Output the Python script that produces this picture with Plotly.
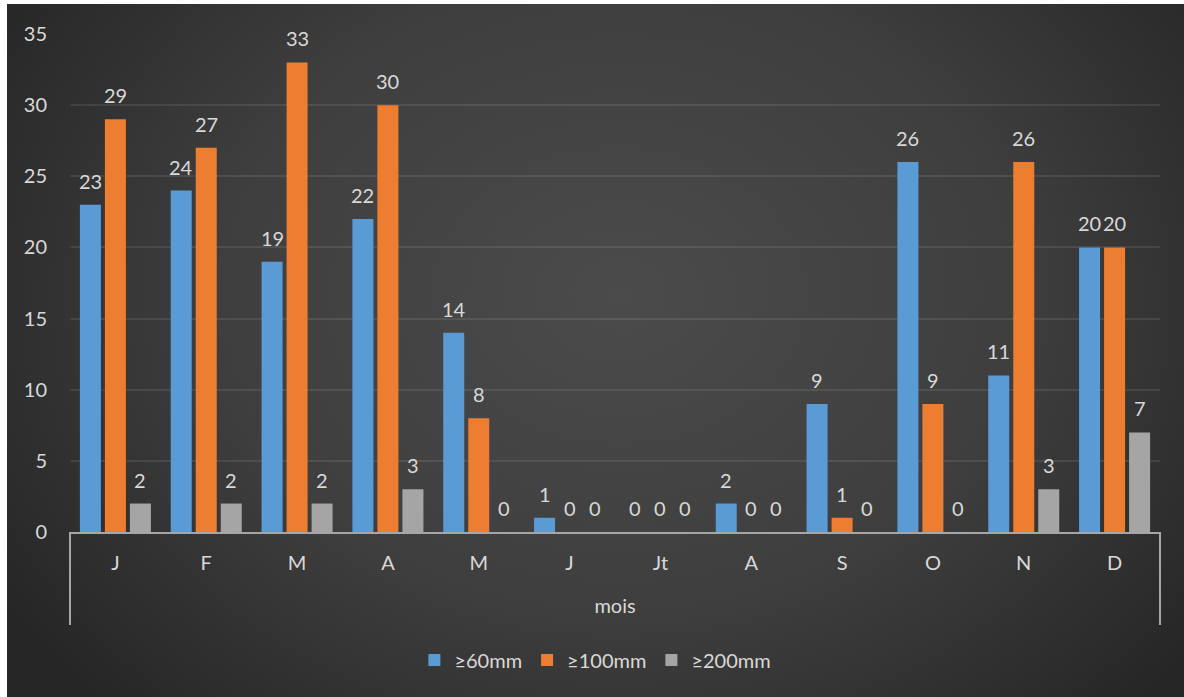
import base64
import plotly.graph_objects as go

# Monthly counts of heavy-rain days by threshold
months = ["J", "F", "M", "A", "M", "J", "Jt", "A", "S", "O", "N", "D"]
series_names = ["≥60mm", "≥100mm", "≥200mm"]
s60 = [23, 24, 19, 22, 14, 1, 0, 2, 9, 26, 11, 20]
s100 = [29, 27, 33, 30, 8, 0, 0, 0, 1, 9, 26, 20]
s200 = [2, 2, 2, 3, 0, 0, 0, 0, 0, 0, 3, 7]
y_ticks = [0, 5, 10, 15, 20, 25, 30, 35]

colors = ["#5b9bd5", "#ed7d31", "#a5a5a5"]
text_color = "#d9d9d9"
font_family = "Lato, 'Noto Sans', sans-serif"
fs = 20

x_idx = list(range(len(months)))
all_series = [s60, s100, s200]

fig = go.Figure()
for name, vals, col in zip(series_names, all_series, colors):
    fig.add_trace(go.Bar(
        x=x_idx, y=vals, name=name,
        marker=dict(color=col, line=dict(width=0)),
    ))

# value labels above each bar
annotations = []
for i, vals in enumerate(all_series):
    for j, v in enumerate(vals):
        annotations.append(dict(
            x=j, y=v, xref="x", yref="y", text=str(v), showarrow=False,
            xshift=(i - 1) * 25, yshift=24, yanchor="middle",
            font=dict(size=fs, color=text_color, family=font_family),
        ))

# radial gradient backdrop for the chart area
svg = (
    "<svg xmlns='http://www.w3.org/2000/svg' width='1177' height='693' "
    "preserveAspectRatio='none' viewBox='0 0 1177 693'>"
    "<defs><radialGradient id='g' cx='0.52' cy='0.42' r='0.62' "
    "gradientTransform='translate(0.52,0.42) scale(1,1.35) translate(-0.52,-0.42)'>"
    "<stop offset='0' stop-color='#4b4b4b'/>"
    "<stop offset='0.55' stop-color='#3e3e3e'/>"
    "<stop offset='1' stop-color='#262626'/>"
    "</radialGradient></defs>"
    "<rect width='1177' height='693' fill='url(#g)'/></svg>"
)
svg_uri = "data:image/svg+xml;base64," + base64.b64encode(svg.encode()).decode()

L, R, T, B = 70, 24, 34, 165
W, H = 1184, 697
pw, ph = W - L - R, H - T - B

def px_x(p):
    return (p - L) / pw

def px_y(p):
    return (H - B - p) / ph

fig.update_layout(
    width=W, height=H,
    margin=dict(l=L, r=R, t=T, b=B),
    paper_bgcolor="white",
    plot_bgcolor="rgba(0,0,0,0)",
    barmode="group",
    bargap=0.174,
    bargroupgap=0.16,
    font=dict(family=font_family, color=text_color, size=fs),
    showlegend=True,
    legend=dict(
        orientation="h", x=0.482, xanchor="center", y=px_y(660), yanchor="middle",
        font=dict(size=fs, color=text_color), bgcolor="rgba(0,0,0,0)",
        itemwidth=30, traceorder="normal",
    ),
    images=[dict(
        source=svg_uri, xref="paper", yref="paper",
        x=px_x(7), y=px_y(4), sizex=(W - 7) / pw, sizey=(H - 4) / ph,
        xanchor="left", yanchor="top", sizing="stretch", layer="below",
    )],
    xaxis=dict(
        range=[-0.5, len(months) - 0.5],
        tickvals=x_idx, ticktext=months,
        showgrid=False, zeroline=False,
        showline=True, linecolor="#a6a6a6", linewidth=2,
        ticks="", ticklabelstandoff=12,
        tickfont=dict(size=fs, color=text_color),
        title=dict(text="mois", font=dict(size=fs, color=text_color), standoff=26),
        fixedrange=True,
    ),
    yaxis=dict(
        range=[0, 35], tickvals=y_ticks,
        showgrid=True, gridcolor="rgba(255,255,255,0.09)", gridwidth=1.5,
        zeroline=False, showline=False, ticks="",
        ticklabelstandoff=22,
        tickfont=dict(size=fs, color=text_color),
        fixedrange=True,
    ),
    annotations=annotations,
    shapes=[
        dict(type="line", xref="paper", yref="paper", x0=0, x1=0,
             y0=0, y1=px_y(625), line=dict(color="#a6a6a6", width=2)),
        dict(type="line", xref="paper", yref="paper", x0=1, x1=1,
             y0=0, y1=px_y(625), line=dict(color="#a6a6a6", width=2)),
    ],
)

fig.write_html("out.html")
